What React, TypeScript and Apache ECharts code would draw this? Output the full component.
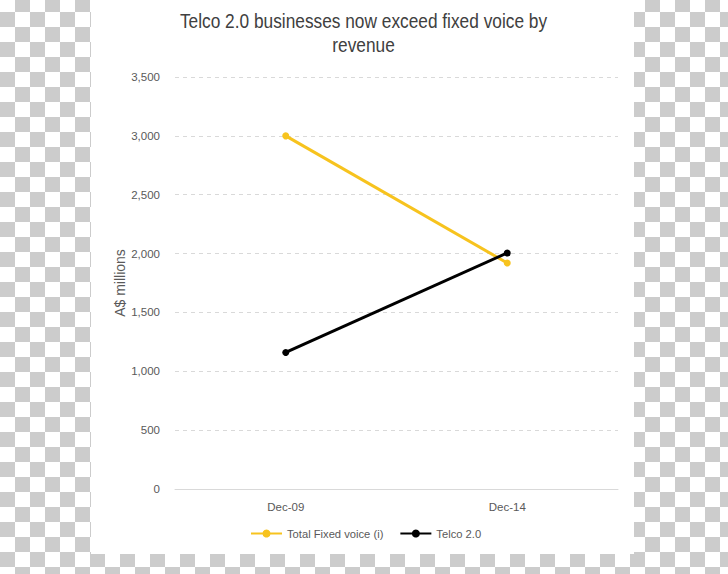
import React, { useEffect, useRef } from "react";
import * as echarts from "echarts";

const categories = ["Dec-09", "Dec-14"];
const fixedVoice = [3000, 1920];
const telco20 = [1160, 2005];
const seriesNames = ["Total Fixed voice (i)", "Telco 2.0"];
const titleText = "Telco 2.0 businesses now exceed fixed voice by\nrevenue";
const yAxisName = "A$ millions";

export default function App() {
  const ref = useRef<HTMLDivElement>(null);
  useEffect(() => {
    if (!ref.current) return;
    const chart = echarts.init(ref.current, null, { renderer: "svg" });
    const font = "'Liberation Sans', Arial, sans-serif";
    chart.setOption({
      animation: false,
      textStyle: { fontFamily: font },
      graphic: [
        {
          type: "text",
          x: 363.5,
          y: 9.5,
          scaleX: 0.865,
          style: {
            text: titleText,
            font: "20px 'Liberation Sans', Arial, sans-serif",
            fill: "#404040",
            textAlign: "center",
            textVerticalAlign: "top",
            lineHeight: 24,
          },
        },
      ],
      grid: { left: 175, right: 110, top: 77, bottom: 85 },
      legend: {
        data: seriesNames,
        left: 250,
        top: 528,
        padding: 0,
        itemWidth: 31,
        itemHeight: 10,
        itemGap: 16,
        textStyle: { fontFamily: font, fontSize: 11.2, color: "#595959" },
      },
      xAxis: {
        type: "category",
        data: categories,
        boundaryGap: true,
        axisLine: { lineStyle: { color: "#d9d9d9", width: 1 } },
        axisTick: { show: false },
        axisLabel: { color: "#595959", fontSize: 11.5, margin: 12, fontFamily: font },
      },
      yAxis: {
        type: "value",
        min: 0,
        max: 3500,
        interval: 500,
        name: yAxisName,
        nameLocation: "middle",
        nameRotate: 90,
        nameGap: 48,
        nameMoveOverlap: false,
        nameTextStyle: { color: "#595959", fontSize: 14, fontFamily: font },
        axisLine: { show: false },
        axisTick: { show: false },
        axisLabel: {
          color: "#595959",
          fontSize: 11.5,
          margin: 15,
          fontFamily: font,
          formatter: (v: number) => v.toLocaleString("en-US"),
        },
        splitLine: { lineStyle: { color: "#d9d9d9", type: [4, 4], width: 1 } },
      },
      series: [
        {
          name: seriesNames[0],
          type: "line",
          data: fixedVoice,
          symbol: "circle",
          symbolSize: 7,
          lineStyle: { color: "#F7C31E", width: 3 },
          itemStyle: { color: "#F7C31E" },
        },
        {
          name: seriesNames[1],
          type: "line",
          data: telco20,
          symbol: "circle",
          symbolSize: 7,
          lineStyle: { color: "#000000", width: 3 },
          itemStyle: { color: "#000000" },
        },
      ],
    });
    return () => chart.dispose();
  }, []);

  return (
    <div
      style={{
        position: "absolute",
        left: 0,
        top: 0,
        width: 728,
        height: 574,
        overflow: "hidden",
        backgroundColor: "#ffffff",
        backgroundImage:
          "repeating-conic-gradient(#cccccc 0% 25%, #ffffff 0% 50%)",
        backgroundSize: "30px 30px",
        backgroundPosition: "0px -3px",
      }}
    >
      <div
        style={{
          position: "absolute",
          left: 91,
          top: 0,
          width: 543,
          height: 554,
          background: "#ffffff",
        }}
      />
      <div
        ref={ref}
        style={{ position: "absolute", left: 0, top: 0, width: 728, height: 574 }}
      />
    </div>
  );
}
